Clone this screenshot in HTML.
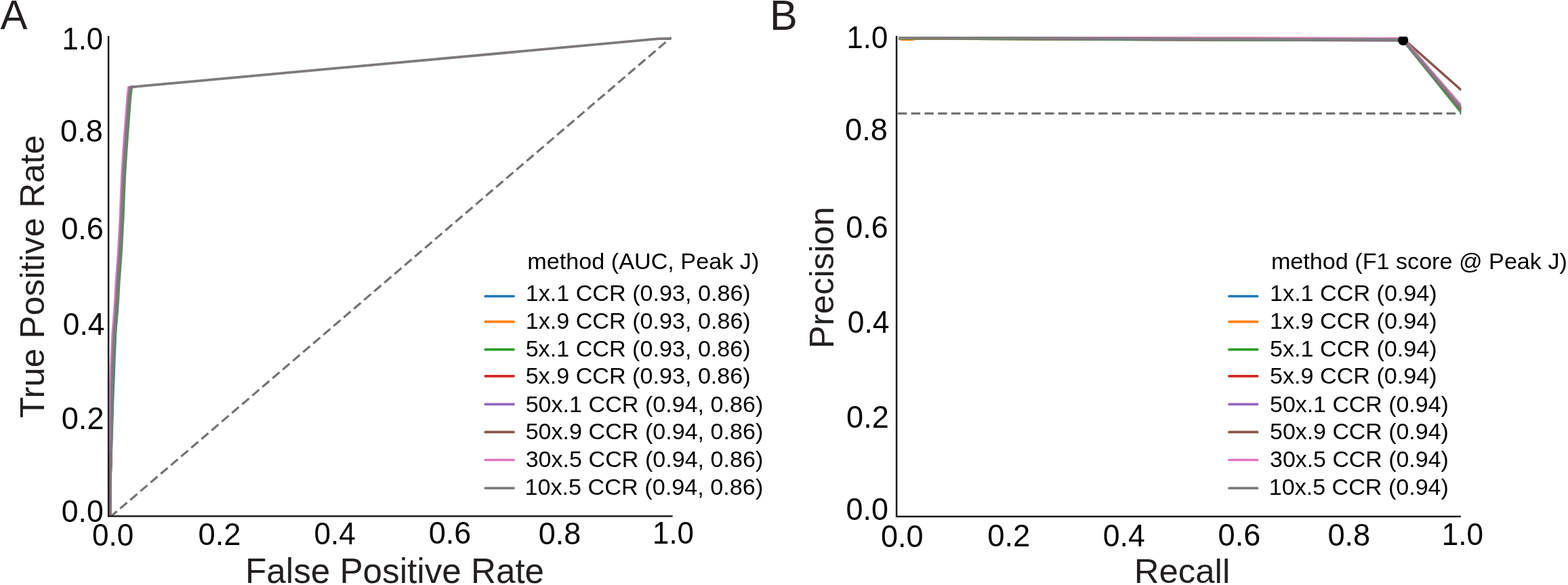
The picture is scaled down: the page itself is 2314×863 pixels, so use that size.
<!DOCTYPE html>
<html><head><meta charset="utf-8"><title>ROC and PR curves</title>
<style>
html,body{margin:0;padding:0;background:#fff;}
svg{display:block;}
text{font-family:"Liberation Sans", Arial, Helvetica, sans-serif;}
</style></head>
<body>
<svg width="2314" height="863" viewBox="0 0 2314 863">
<defs>
<clipPath id="cA"><rect x="160" y="53.5" width="833" height="708"/></clipPath>
<clipPath id="cB"><rect x="1323" y="54" width="833.5" height="708"/></clipPath>
</defs>
<rect width="2314" height="863" fill="#fff"/>
<g clip-path="url(#cA)">
<path d="M162.5,762.9 L990.5,55.2" stroke="#737373" stroke-width="3.2" stroke-dasharray="13.5 6.23" stroke-dashoffset="0.31" fill="none"/>
<g fill="none" stroke-width="3.6" stroke-linejoin="round" stroke-linecap="butt">
<path d="M162.60,761.50 L163.20,700.00 L164.45,660.00 L166.76,583.00 L167.80,560.00 L168.40,540.00 L170.45,491.00 L172.68,460.00 L173.80,440.00 L174.80,420.00 L178.50,370.00 L181.10,320.00 L183.50,260.00 L186.00,220.00 L191.80,143.00 L193.50,128.80 L201,127.7" stroke="#1f77b4"/>
<path d="M162.60,761.50 L163.20,700.00 L163.97,660.00 L165.24,583.00 L165.90,560.00 L166.50,540.00 L168.80,491.00 L171.30,460.00 L172.60,440.00 L173.60,420.00 L177.30,370.00 L179.90,320.00 L182.30,260.00 L184.80,220.00 L190.60,143.00 L192.30,128.80 L201,127.7" stroke="#ff7f0e"/>
<path d="M162.60,761.50 L163.20,700.00 L164.28,660.00 L166.20,583.00 L167.10,560.00 L167.70,540.00 L170.25,491.00 L173.03,460.00 L174.50,440.00 L175.50,420.00 L179.20,370.00 L181.80,320.00 L184.20,260.00 L186.70,220.00 L192.50,143.00 L194.20,128.80 L201,127.7" stroke="#4f9158"/>
<path d="M162.60,761.50 L163.20,700.00 L163.68,660.00 L164.28,583.00 L164.70,560.00 L165.30,540.00 L167.60,491.00 L170.10,460.00 L171.40,440.00 L172.40,420.00 L176.10,370.00 L178.70,320.00 L181.10,260.00 L183.60,220.00 L189.40,143.00 L191.10,128.80 L201,127.7" stroke="#d62728"/>
<path d="M162.60,761.50 L163.20,700.00 L163.53,660.00 L163.80,583.00 L164.10,560.00 L164.70,540.00 L167.00,491.00 L169.50,460.00 L170.80,440.00 L171.80,420.00 L175.50,370.00 L178.10,320.00 L180.50,260.00 L183.00,220.00 L188.80,143.00 L190.50,128.80 L201,127.7" stroke="#9467bd"/>
<path d="M162.60,761.50 L163.20,700.00 L163.83,660.00 L164.76,583.00 L165.30,560.00 L165.90,540.00 L168.20,491.00 L170.70,460.00 L172.00,440.00 L173.00,420.00 L176.70,370.00 L179.30,320.00 L181.70,260.00 L184.20,220.00 L190.00,143.00 L191.70,128.80 L201,127.7" stroke="#8c564b"/>
<path d="M162.60,761.50 L163.20,700.00 L163.35,660.00 L163.24,583.00 L163.40,560.00 L164.00,540.00 L166.30,491.00 L168.80,460.00 L170.10,440.00 L171.10,420.00 L174.80,370.00 L177.40,320.00 L179.80,260.00 L182.30,220.00 L188.10,143.00 L189.80,128.80 L201,127.7" stroke="#d87cbf"/>
<path d="M162.60,761.50 L163.20,700.00 L163.90,660.00 L165.00,583.00 L165.60,560.00 L166.20,540.00 L168.50,491.00 L171.00,460.00 L172.30,440.00 L173.30,420.00 L177.00,370.00 L179.60,320.00 L182.00,260.00 L184.50,220.00 L190.30,143.00 L192.00,128.80 L199,127.9 L972,57.2 L990.5,57" stroke="#7e797e" stroke-width="3.8"/>
</g>
</g>
<g clip-path="url(#cB)">
<path d="M1324.9,167.4 H2156.5" stroke="#737373" stroke-width="3.2" stroke-dasharray="13.5 6.25" fill="none"/>
<g fill="none" stroke-width="3.6" stroke-linejoin="round" stroke-linecap="butt">
<path d="M1326,56.9 L1440,57.3 L1800,58.9 L2070.7,59.5 L2156.5,163.5" stroke="#2f78a8"/>
<path d="M1326,56.6 L1331,58.2 L1346,58.2 L1353,57.0 L1800,58.8 L2070.7,59.3 L2156.5,162.0" stroke="#ff7f0e"/>
<path d="M1326,56.6 L1440,57.2 L1800,59.0 L2070.7,59.6 L2156.5,166.0" stroke="#4f9158"/>
<path d="M1326,55.2 L1800,58.0 L2070.7,58.8 L2156.5,161.0" stroke="#d62728"/>
<path d="M1326,55.2 L1800,58.0 L2070.7,58.8 L2156.5,160.0" stroke="#9467bd"/>
<path d="M1326,55.2 L1440,55.5 L1800,56.4 L2070.7,57.0 L2156.5,133.0" stroke="#8c564b"/>
<path d="M1326,55.2 L1440,55.5 L1800,56.3 L2070.7,56.9 L2156.5,156.0" stroke="#d87cbf"/>
<path d="M1326,55.0 L1800,57.6 L2070.7,58.4 L2156.5,159.5" stroke="#7f7f7f"/>
</g>
<circle cx="2070.7" cy="59.3" r="7.6" fill="#000"/>
</g>
<g fill="none" stroke="#1a1a1a" stroke-width="2.5" stroke-linecap="butt" stroke-linejoin="miter">
<path d="M160.1,53 V761.6 H992.6"/>
<path d="M1323.1,53 V761.9 H2155.8"/>
</g>
<g fill="none" stroke-width="3.7" stroke-linecap="round">
<path d="M716.2,437H758.1M1813.9,437H1855.6" stroke="#1f77b4"/>
<path d="M716.2,474.6H758.1M1813.9,474.6H1855.6" stroke="#ff7f0e"/>
<path d="M716.2,515.7H758.1M1813.9,515.7H1855.6" stroke="#2ca02c"/>
<path d="M716.2,554.8H758.1M1813.9,554.8H1855.6" stroke="#d62728"/>
<path d="M716.2,596.3H758.1M1813.9,596.3H1855.6" stroke="#9467bd"/>
<path d="M716.2,637.4H758.1M1813.9,637.4H1855.6" stroke="#8c564b"/>
<path d="M716.2,678.5H758.1M1813.9,678.5H1855.6" stroke="#e377c2"/>
<path d="M716.2,720.2H758.1M1813.9,720.2H1855.6" stroke="#7f7f7f"/>
</g>
<g>
<text transform="translate(0.50,43.40) scale(0.9764,1)" font-size="61.45" fill="#231f20">A</text>
<text transform="translate(1136.01,43.60) scale(0.9742,1)" font-size="62.75" fill="#231f20">B</text>
<text transform="translate(91.45,73.34) scale(0.9436,1)" font-size="46.27" fill="#000">1.0</text>
<text transform="translate(89.09,209.14) scale(0.9848,1)" font-size="45.85" fill="#000">0.8</text>
<text transform="translate(90.19,353.04) scale(0.9788,1)" font-size="46.13" fill="#000">0.6</text>
<text transform="translate(92.83,493.84) scale(0.9650,1)" font-size="45.85" fill="#000">0.4</text>
<text transform="translate(90.80,633.24) scale(0.9712,1)" font-size="46.42" fill="#000">0.2</text>
<text transform="translate(90.72,770.04) scale(0.9753,1)" font-size="45.71" fill="#000">0.0</text>
<text transform="translate(135.94,805.34) scale(0.9607,1)" font-size="45.85" fill="#000">0.0</text>
<text transform="translate(292.59,804.44) scale(0.9821,1)" font-size="46.13" fill="#000">0.2</text>
<text transform="translate(463.44,803.34) scale(0.9541,1)" font-size="46.13" fill="#000">0.4</text>
<text transform="translate(632.70,802.34) scale(0.9708,1)" font-size="46.27" fill="#000">0.6</text>
<text transform="translate(794.80,803.04) scale(0.9708,1)" font-size="46.27" fill="#000">0.8</text>
<text transform="translate(963.04,801.94) scale(0.9528,1)" font-size="45.99" fill="#000">1.0</text>
<text transform="translate(1249.55,71.23) scale(0.9350,1)" font-size="46.70" fill="#000">1.0</text>
<text transform="translate(1247.09,206.94) scale(0.9865,1)" font-size="45.85" fill="#000">0.8</text>
<text transform="translate(1248.30,350.63) scale(0.9666,1)" font-size="46.56" fill="#000">0.6</text>
<text transform="translate(1250.82,491.24) scale(0.9623,1)" font-size="46.13" fill="#000">0.4</text>
<text transform="translate(1249.09,630.64) scale(0.9848,1)" font-size="45.85" fill="#000">0.2</text>
<text transform="translate(1248.60,767.34) scale(0.9806,1)" font-size="45.85" fill="#000">0.0</text>
<text transform="translate(1299.90,807.24) scale(0.9840,1)" font-size="45.85" fill="#000">0.0</text>
<text transform="translate(1457.18,806.44) scale(0.9899,1)" font-size="45.85" fill="#000">0.2</text>
<text transform="translate(1627.82,805.64) scale(0.9699,1)" font-size="45.85" fill="#000">0.4</text>
<text transform="translate(1797.60,804.74) scale(0.9862,1)" font-size="45.71" fill="#000">0.6</text>
<text transform="translate(1959.39,804.94) scale(0.9804,1)" font-size="46.13" fill="#000">0.8</text>
<text transform="translate(2127.72,804.24) scale(0.9580,1)" font-size="45.99" fill="#000">1.0</text>
<text transform="translate(362.03,859.89) scale(0.9980,1)" font-size="51.31" fill="#231f20">False Positive Rate</text>
<text transform="translate(1673.76,859.50) scale(1.0192,1)" font-size="49.95" fill="#231f20">Recall</text>
<text transform="translate(64.50,616.79) rotate(-90) scale(1.0184,1)" font-size="50.09" fill="#231f20">True Positive Rate</text>
<text transform="translate(1230.00,514.14) rotate(-90) scale(1.0271,1)" font-size="49.55" fill="#231f20">Precision</text>
<text transform="translate(778.22,396.90) scale(1.0060,1)" font-size="34.00" fill="#000">method (AUC, Peak J)</text>
<text transform="translate(1875.92,396.60) scale(1.0047,1)" font-size="34.00" fill="#000">method (F1 score @ Peak J)</text>
<text transform="translate(775.68,444.30) scale(1.0045,1)" font-size="34.00" fill="#000">1x.1 CCR (0.93, 0.86)</text>
<text transform="translate(1874.08,444.30) scale(1.0044,1)" font-size="34.00" fill="#000">1x.1 CCR (0.94)</text>
<text transform="translate(775.68,485.10) scale(1.0045,1)" font-size="34.00" fill="#000">1x.9 CCR (0.93, 0.86)</text>
<text transform="translate(1874.08,485.10) scale(1.0044,1)" font-size="34.00" fill="#000">1x.9 CCR (0.94)</text>
<text transform="translate(775.63,525.90) scale(1.0046,1)" font-size="34.00" fill="#000">5x.1 CCR (0.93, 0.86)</text>
<text transform="translate(1874.03,525.90) scale(1.0046,1)" font-size="34.00" fill="#000">5x.1 CCR (0.94)</text>
<text transform="translate(775.63,566.10) scale(1.0046,1)" font-size="34.00" fill="#000">5x.9 CCR (0.93, 0.86)</text>
<text transform="translate(1874.03,566.10) scale(1.0046,1)" font-size="34.00" fill="#000">5x.9 CCR (0.94)</text>
<text transform="translate(775.64,607.50) scale(1.0031,1)" font-size="34.00" fill="#000">50x.1 CCR (0.94, 0.86)</text>
<text transform="translate(1874.04,607.50) scale(0.9976,1)" font-size="34.00" fill="#000">50x.1 CCR (0.94)</text>
<text transform="translate(775.64,647.90) scale(1.0031,1)" font-size="34.00" fill="#000">50x.9 CCR (0.94, 0.86)</text>
<text transform="translate(1874.04,647.90) scale(0.9976,1)" font-size="34.00" fill="#000">50x.9 CCR (0.94)</text>
<text transform="translate(775.64,688.80) scale(1.0031,1)" font-size="34.00" fill="#000">30x.5 CCR (0.94, 0.86)</text>
<text transform="translate(1874.04,688.80) scale(0.9976,1)" font-size="34.00" fill="#000">30x.5 CCR (0.94)</text>
<text transform="translate(774.38,729.60) scale(1.0067,1)" font-size="34.00" fill="#000">10x.5 CCR (0.94, 0.86)</text>
<text transform="translate(1872.79,729.60) scale(1.0024,1)" font-size="34.00" fill="#000">10x.5 CCR (0.94)</text>
</g>
</svg>
</body></html>
